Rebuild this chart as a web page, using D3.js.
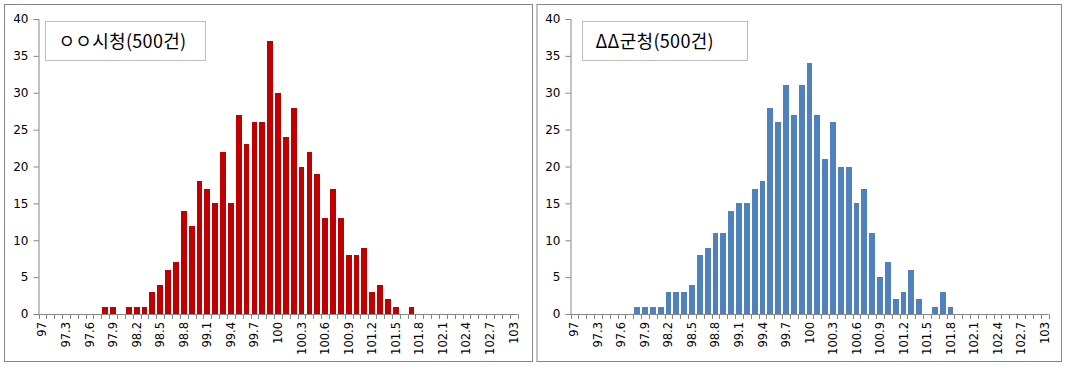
<!DOCTYPE html>
<html>
<head>
<meta charset="utf-8">
<script src="https://cdn.jsdelivr.net/npm/d3@7"></script>
<style>
  body { margin: 0; background: #fff; }
  svg { display: block; }
</style>
</head>
<body>
<div id="chart"></div>
<script>
// categories (price ratio buckets, %)
const categories = [
  97.0, 97.1, 97.2, 97.3, 97.4, 97.5, 97.6, 97.7, 97.8, 97.9,
  98.0, 98.1, 98.2, 98.3, 98.4, 98.5, 98.6, 98.7, 98.8, 98.9,
  99.0, 99.1, 99.2, 99.3, 99.4, 99.5, 99.6, 99.7, 99.8, 99.9,
  100.0, 100.1, 100.2, 100.3, 100.4, 100.5, 100.6, 100.7, 100.8, 100.9,
  101.0, 101.1, 101.2, 101.3, 101.4, 101.5, 101.6, 101.7, 101.8, 101.9,
  102.0, 102.1, 102.2, 102.3, 102.4, 102.5, 102.6, 102.7, 102.8, 102.9,
  103.0
];
const tickLabels = ['97', '97.3', '97.6', '97.9', '98.2', '98.5', '98.8', '99.1', '99.4', '99.7',
  '100', '100.3', '100.6', '100.9', '101.2', '101.5', '101.8', '102.1', '102.4', '102.7', '103'];
const yTicks = [0, 5, 10, 15, 20, 25, 30, 35, 40];

const cityCounts = [
  0, 0, 0, 0, 0, 0, 0, 0, 1, 1,
  0, 1, 1, 1, 3, 4, 6, 7, 14, 12,
  18, 17, 15, 22, 15, 27, 23, 26, 26, 37,
  30, 24, 28, 20, 22, 19, 13, 17, 13, 8,
  8, 9, 3, 4, 2, 1, 0, 1, 0, 0,
  0, 0, 0, 0, 0, 0, 0, 0, 0, 0,
  0
];
const countyCounts = [
  0, 0, 0, 0, 0, 0, 0, 0, 1, 1,
  1, 1, 3, 3, 3, 4, 8, 9, 11, 11,
  14, 15, 15, 17, 18, 28, 26, 31, 27, 31,
  34, 27, 21, 26, 20, 20, 15, 17, 11, 5,
  7, 2, 3, 6, 2, 0, 1, 3, 1, 0,
  0, 0, 0, 0, 0, 0, 0, 0, 0, 0,
  0
];

const panels = [
  {title: 'ㅇㅇ시청(500건)', values: cityCounts, color: '#C00000',
   frame: [4.5, 4.5, 528, 357], plot: [38.5, 19, 517.5, 314], box: [45.5, 21.5, 160, 39]},
  {title: 'ΔΔ군청(500건)', values: countyCounts, color: '#4F81BD',
   frame: [537, 4.5, 524.5, 357], plot: [570.5, 19, 1048.5, 314], box: [582.5, 21.5, 165, 39]}
];

const svg = d3.select('#chart').append('svg')
  .attr('width', 1068)
  .attr('height', 370);

const axisColor = '#868686';
const font = "'DejaVu Sans', sans-serif";

panels.forEach(p => {
  const g = svg.append('g');

  g.append('rect')
    .attr('x', p.frame[0]).attr('y', p.frame[1])
    .attr('width', p.frame[2]).attr('height', p.frame[3])
    .attr('fill', '#fff')
    .attr('stroke', axisColor);

  const x = d3.scaleBand()
    .domain(categories)
    .range([p.plot[0], p.plot[2]])
    .paddingInner(0.26)
    .paddingOuter(0.13);

  const y = d3.scaleLinear()
    .domain([0, 40])
    .range([p.plot[3], p.plot[1]]);

  // bars
  g.append('g')
    .selectAll('rect')
    .data(p.values.map((v, i) => ({cat: categories[i], v: v})))
    .enter()
    .append('rect')
    .attr('x', d => x(d.cat))
    .attr('y', d => y(d.v))
    .attr('width', x.bandwidth())
    .attr('height', d => y(0) - y(d.v))
    .attr('fill', p.color)
    .attr('shape-rendering', 'crispEdges');

  // y axis
  const yAxis = g.append('g')
    .attr('transform', 'translate(' + p.plot[0] + ',0)')
    .call(d3.axisLeft(y).tickValues(yTicks).tickSize(5).tickPadding(5));
  yAxis.select('.domain').attr('stroke', axisColor);
  yAxis.selectAll('.tick line').attr('stroke', axisColor);
  yAxis.selectAll('.tick text')
    .attr('font-family', font)
    .attr('font-size', '12px')
    .attr('fill', '#000');

  // x axis: tick marks between categories
  const step = x.step();
  const x0 = p.plot[0];
  const bounds = d3.range(categories.length + 1).map(i => x0 + i * step);
  g.append('line')
    .attr('x1', p.plot[0]).attr('x2', p.plot[2])
    .attr('y1', y(0) + 0.5).attr('y2', y(0) + 0.5)
    .attr('stroke', axisColor);
  g.append('g')
    .selectAll('line')
    .data(bounds)
    .enter()
    .append('line')
    .attr('x1', d => Math.round(d) + 0.5)
    .attr('x2', d => Math.round(d) + 0.5)
    .attr('y1', y(0))
    .attr('y2', y(0) + 5)
    .attr('stroke', axisColor);

  // x labels, rotated
  g.append('g')
    .selectAll('text')
    .data(tickLabels)
    .enter()
    .append('text')
    .attr('transform', d => 'translate(' + (x(+d) + x.bandwidth() / 2) + ',' + (y(0) + 8) + ') rotate(-90)')
    .attr('dy', '0.35em')
    .attr('text-anchor', 'end')
    .attr('font-family', font)
    .attr('font-size', '11.5px')
    .attr('fill', '#000')
    .text(d => d);

  // title box
  g.append('rect')
    .attr('x', p.box[0]).attr('y', p.box[1])
    .attr('width', p.box[2]).attr('height', p.box[3])
    .attr('fill', '#fff')
    .attr('stroke', '#bfbfbf');
  g.append('text')
    .attr('x', p.box[0] + 13)
    .attr('y', p.box[1] + 26)
    .attr('font-family', "'Noto Sans CJK KR', sans-serif")
    .attr('font-size', '18px')
    .attr('letter-spacing', '0.3px')
    .attr('fill', '#000')
    .text(p.title);
});
</script>
</body>
</html>
